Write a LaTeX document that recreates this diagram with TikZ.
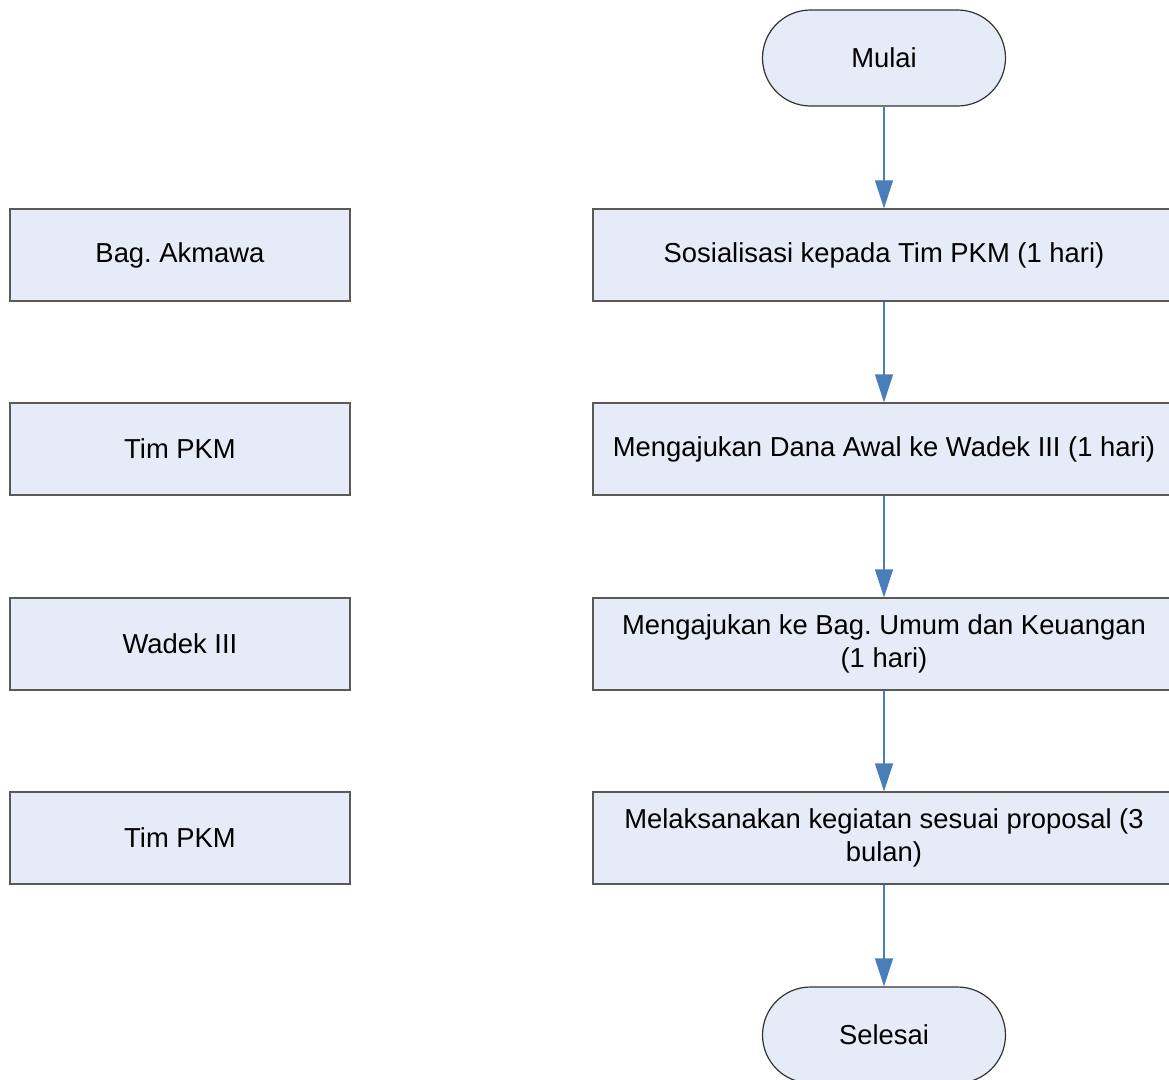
\documentclass[tikz,border=0pt]{standalone}
\usepackage{fontspec}
\setmainfont{Liberation Sans}
\usetikzlibrary{arrows.meta}
\definecolor{boxfill}{HTML}{E6ECF7}
\definecolor{boxline}{HTML}{595959}
\definecolor{arrowblue}{HTML}{4A7EBB}
\frenchspacing
\begin{document}
\begin{tikzpicture}[x=1pt,y=-1pt,
  every node/.style={font=\fontsize{27.4}{33}\selectfont, text=black},
  procbox/.style={draw=boxline, line width=1.2pt, fill=boxfill, minimum height=92pt, inner sep=0pt, align=center},
  rightbox/.style={procbox, minimum width=582pt},
  leftbox/.style={procbox, minimum width=340pt},
  termbox/.style={draw=black!80, line width=1.2pt, fill=boxfill, minimum width=243pt, minimum height=96pt, rounded corners=48pt, inner sep=0pt},
  flow/.style={draw=arrowblue, line width=1.4pt, -{Triangle[length=28pt,width=18pt]}}
]
\useasboundingbox (0,0) rectangle (1169,1079);
\node[termbox] (start) at (884,58) {Mulai};
\node[rightbox] (s1) at (884,255) {Sosialisasi kepada Tim PKM (1 hari)};
\node[rightbox] (s2) at (884,449) {Mengajukan Dana Awal ke Wadek III (1 hari)};
\node[rightbox] (s3) at (884,644) {Mengajukan ke Bag. Umum dan Keuangan\\(1 hari)};
\node[rightbox] (s4) at (884,838) {Melaksanakan kegiatan sesuai proposal (3\\bulan)};
\node[termbox] (end) at (884,1035) {Selesai};
\node[leftbox] (l1) at (180,255) {Bag. Akmawa};
\node[leftbox] (l2) at (180,449) {Tim PKM};
\node[leftbox] (l3) at (180,644) {Wadek III};
\node[leftbox] (l4) at (180,838) {Tim PKM};
\draw[flow] (start) -- (s1);
\draw[flow] (s1) -- (s2);
\draw[flow] (s2) -- (s3);
\draw[flow] (s3) -- (s4);
\draw[flow] (s4) -- (end);
\end{tikzpicture}
\end{document}
